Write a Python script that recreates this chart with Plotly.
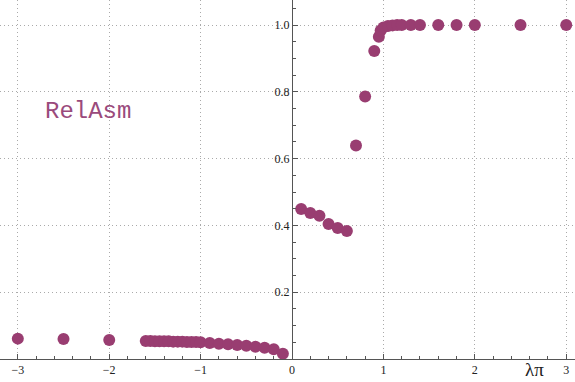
import plotly.graph_objects as go

# data
x_left = [-3.0, -2.5, -2.0, -1.6, -1.55, -1.5, -1.45, -1.4, -1.35, -1.3, -1.25,
          -1.2, -1.15, -1.1, -1.05, -1.0, -0.9, -0.8, -0.7, -0.6, -0.5, -0.4,
          -0.3, -0.2, -0.1]
y_left = [0.061, 0.060, 0.057, 0.054, 0.054, 0.053, 0.053, 0.053, 0.053, 0.052,
          0.052, 0.052, 0.051, 0.051, 0.051, 0.050, 0.048, 0.046, 0.044, 0.042,
          0.040, 0.037, 0.034, 0.029, 0.016]
x_right = [0.1, 0.2, 0.3, 0.4, 0.5, 0.6, 0.7, 0.8, 0.9, 0.95, 0.97, 1.0, 1.05,
           1.1, 1.15, 1.2, 1.3, 1.4, 1.6, 1.8, 2.0, 2.5, 3.0]
y_right = [0.449, 0.437, 0.429, 0.404, 0.392, 0.383, 0.639, 0.786, 0.922, 0.965,
           0.984, 0.993, 0.997, 0.999, 1.0, 1.0, 1.0, 1.0, 1.0, 1.0, 1.0, 1.0, 1.0]

x_ticks = [-3, -2, -1, 0, 1, 2, 3]
y_ticks = [0.2, 0.4, 0.6, 0.8, 1.0]
y_tick_labels = ["0.2", "0.4", "0.6", "0.8", "1.0"]

marker_color = "#993d71"
x_range = [-3.195, 3.096]
y_range = [0.0, 1.075]

SERIF = "Liberation Serif, Times New Roman, Tinos, DejaVu Serif, serif"
MONO = "Liberation Mono, Courier New, Cousine, DejaVu Sans Mono, monospace"

fig = go.Figure()
fig.add_trace(go.Scatter(
    x=x_left + x_right, y=y_left + y_right, mode="markers",
    marker=dict(color=marker_color, size=12, line=dict(width=0)),
    cliponaxis=False, showlegend=False, hoverinfo="skip",
))

axis_font = dict(family=SERIF, size=12, color="#222")
grid_kw = dict(showgrid=True, gridcolor="#aaaaaa", griddash="1px,3px", gridwidth=1)

fig.update_layout(
    width=575, height=382,
    margin=dict(l=0, r=0, t=0, b=23, autoexpand=False),
    paper_bgcolor="white", plot_bgcolor="white",
    xaxis=dict(
        range=x_range, tickvals=x_ticks, ticks="inside", ticklen=5,
        tickcolor="#555", showline=True, linecolor="#555", linewidth=1,
        zeroline=False, tickfont=axis_font, automargin=False,
        minor=dict(dtick=0.2, ticks="inside", ticklen=3, tickcolor="#555",
                   showgrid=False),
        **grid_kw,
    ),
    yaxis=dict(
        range=y_range, tickvals=y_ticks, ticktext=y_tick_labels,
        anchor="free", position=(0 - x_range[0]) / (x_range[1] - x_range[0]),
        ticks="inside", ticklen=5, tickcolor="#555",
        showline=True, linecolor="#555", linewidth=1.3,
        zeroline=False, tickfont=axis_font, automargin=False,
        minor=dict(dtick=0.05, ticks="inside", ticklen=3, tickcolor="#555",
                   showgrid=False),
        **grid_kw,
    ),
    annotations=[
        dict(text="RelAsm", x=-2.23, y=0.74, xref="x", yref="y",
             showarrow=False, font=dict(family=MONO, size=24, color="#9a4a7c")),
        dict(text="λπ", x=2.65, y=-0.03, xref="x", yref="paper",
             showarrow=False, yanchor="middle", borderpad=0,
             font=dict(family=SERIF, size=19, color="#222")),
    ],
)

fig.write_html("out.html", config={"displayModeBar": False},
               post_script="document.body.style.margin='0';document.body.style.padding='0';")
